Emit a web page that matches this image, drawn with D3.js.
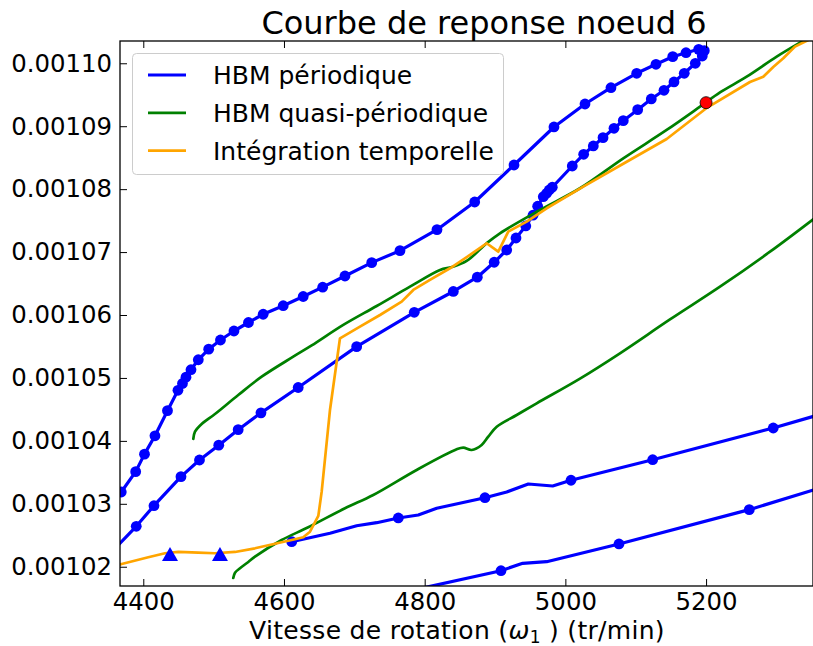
<!DOCTYPE html>
<html>
<head>
	<meta charset="utf-8">
	<title>Courbe de reponse noeud 6</title>
	<style>
		body {
			margin: 0;
			background: #fff;
		}
		svg {
			display: block;
			font-family: 'DejaVu Sans', sans-serif;
		}
		.axis text {
			font-size: 24.4px;
			fill: #000;
		}
	</style>
</head>
<body>
	<svg width="813" height="646"></svg>
<script src="https://d3js.org/d3.v7.min.js"></script>
<script>
	// omega (tr/min), amplitude
	// HBM periodique, main branch (with the fold near 5200) - marked points
	let perA = [
		[4390.0, 0.00102643], [4415.2, 0.00102970], [4453.6, 0.00103431], [4479.9, 0.00103696],
		[4507.3, 0.00103932], [4534.9, 0.00104178], [4567.3, 0.00104446], [4620.2, 0.00104848],
		[4703.3, 0.00105497], [4785.2, 0.00106043], [4840.7, 0.00106374], [4874.8, 0.00106601],
		[4898.8, 0.00106838], [4916.6, 0.00107033], [4929.8, 0.00107224], [4943.7, 0.00107415],
		[4954.0, 0.00107586], [4960.6, 0.00107728], [4968.6, 0.00107880], [4973.4, 0.00107934],
		[4977.1, 0.00107987], [4981.4, 0.00108030], [5009.8, 0.00108368], [5026.0, 0.00108554],
		[5039.7, 0.00108686], [5053.5, 0.00108818], [5069.1, 0.00108967], [5082.3, 0.00109088],
		[5102.8, 0.00109263], [5122.1, 0.00109433], [5140.2, 0.00109571], [5154.4, 0.00109703],
		[5169.0, 0.00109841], [5184.7, 0.00110000], [5194.6, 0.00110116], [5197.5, 0.00110200],
		[5189.5, 0.00110222], [5171.5, 0.00110168], [5152.6, 0.00110105], [5128.8, 0.00109984],
		[5101.4, 0.00109841], [5064.8, 0.00109612], [5027.9, 0.00109353], [4983.8, 0.00108988],
		[4927.0, 0.00108384], [4871.1, 0.00107796], [4817.5, 0.00107356], [4764.9, 0.00107022],
		[4724.7, 0.00106832], [4686.7, 0.00106620], [4655.0, 0.00106442], [4627.3, 0.00106294],
		[4598.9, 0.00106148], [4570.4, 0.00106012], [4549.5, 0.00105881], [4528.9, 0.00105746],
		[4509.7, 0.00105603], [4493.0, 0.00105457], [4478.2, 0.00105289], [4467.8, 0.00105131],
		[4460.7, 0.00105012], [4455.7, 0.00104912], [4449.3, 0.00104804], [4434.4, 0.00104480],
		[4416.6, 0.00104081], [4401.7, 0.00103789], [4389.2, 0.00103511], [4368.7, 0.00103188]
	]
	let perALead = [[4352.7, 0.00102207]]
	let perATail = [[4355.5, 0.00102965]]

	// HBM periodique, middle lower branch
	let perB = [
		[4611.0, 0.00102398], [4665.4, 0.00102532], [4703.3, 0.00102652], [4731.8, 0.00102700],
		[4762.5, 0.00102775], [4790.9, 0.00102822], [4817.1, 0.00102929], [4885.7, 0.00103097],
		[4916.6, 0.00103188], [4947.3, 0.00103315], [4982.0, 0.00103283], [5008.0, 0.00103374],
		[5124.1, 0.00103701], [5295.5, 0.00104205], [5354.8, 0.00104396]
	]
	let perBMarks = [
		[4611.0, 0.00102398], [4762.5, 0.00102775], [4885.7, 0.00103097], [5008.0, 0.00103374],
		[5124.1, 0.00103701], [5295.5, 0.00104205]
	]

	// HBM periodique, lowest branch
	let perC = [
		[4764.9, 0.00101583], [4908.5, 0.00101937], [4939.3, 0.00102055], [4973.4, 0.00102080],
		[5076.2, 0.00102362], [5261.4, 0.00102907], [5354.8, 0.00103228]
	]
	let perCMarks = [
		[4908.5, 0.00101937], [5076.2, 0.00102362], [5261.4, 0.00102907]
	]

	// bifurcation points (triangles)
	let bifPts = [[4438.0, 0.00102203], [4509.0, 0.00102203]]

	// HBM quasi-periodique
	let qpA = [
		[4471.1, 0.00104030], [4473.5, 0.00104146], [4483.0, 0.00104268], [4501.9, 0.00104427],
		[4535.0, 0.00104729], [4568.3, 0.00105020], [4613.2, 0.00105338], [4639.4, 0.00105516],
		[4684.3, 0.00105842], [4731.8, 0.00106143], [4779.1, 0.00106450], [4821.8, 0.00106716],
		[4838.8, 0.00106763], [4859.7, 0.00106859], [4888.1, 0.00107140], [4907.0, 0.00107299],
		[4963.9, 0.00107669], [5020.8, 0.00108014], [5082.3, 0.00108490], [5144.0, 0.00108940],
		[5191.4, 0.00109310], [5219.8, 0.00109536], [5257.7, 0.00109787], [5300.4, 0.00110105],
		[5333.5, 0.00110327], [5361.9, 0.00110505]
	]
	let qpB = [
		[4527.9, 0.00101821], [4530.4, 0.00101906], [4537.5, 0.00101976], [4549.3, 0.00102076],
		[4558.8, 0.00102160], [4596.7, 0.00102425], [4634.5, 0.00102627], [4686.7, 0.00102929],
		[4726.9, 0.00103140], [4788.6, 0.00103538], [4845.5, 0.00103866], [4854.9, 0.00103892],
		[4866.8, 0.00103855], [4881.0, 0.00103935], [4890.4, 0.00104067], [4902.4, 0.00104225],
		[4930.8, 0.00104411], [4959.2, 0.00104597], [5020.8, 0.00104990], [5077.6, 0.00105392],
		[5148.7, 0.00105929], [5219.8, 0.00106450], [5290.9, 0.00107006], [5354.8, 0.00107542]
	]

	// Integration temporelle
	let integ = [
		[4359.8, 0.00102012], [4369.3, 0.00102044], [4407.1, 0.00102150], [4430.8, 0.00102214],
		[4449.8, 0.00102235], [4478.2, 0.00102223], [4501.9, 0.00102214], [4530.4, 0.00102235],
		[4558.8, 0.00102293], [4596.7, 0.00102389], [4615.6, 0.00102436], [4627.4, 0.00102468],
		[4637.0, 0.00102557], [4648.8, 0.00102807], [4653.6, 0.00103193], [4665.4, 0.00104491],
		[4679.6, 0.00105630], [4708.0, 0.00105815], [4736.5, 0.00106000], [4767.3, 0.00106212],
		[4783.8, 0.00106398], [4807.5, 0.00106557], [4836.0, 0.00106743], [4864.4, 0.00106954],
		[4888.1, 0.00107140], [4904.6, 0.00107006], [4918.8, 0.00107324], [4945.0, 0.00107483],
		[4973.4, 0.00107696], [5025.5, 0.00108039], [5087.2, 0.00108436], [5144.0, 0.00108797],
		[5199.9, 0.00109282], [5262.4, 0.00109703], [5281.3, 0.00109787], [5295.5, 0.00109941],
		[5309.8, 0.00110079], [5326.4, 0.00110264], [5345.3, 0.00110370], [5361.9, 0.00110497]
	]

	// red point
	let redPt = [[5200, 0.00109374]]

	let xTicks = [4400, 4600, 4800, 5000, 5200]
	let yTicks = [0.00102, 0.00103, 0.00104, 0.00105, 0.00106, 0.00107, 0.00108, 0.00109, 0.00110]
	let legendNames = ['HBM périodique', 'HBM quasi-périodique', 'Intégration temporelle']
	let legendColors = ['#0000ff', '#008000', '#ffa500']

	let mLeft = 120, mRight = 813, mTop = 41, mBottom = 586

	let svg = d3.select('svg')

	let x = d3.scaleLinear()
		.domain([4366.9, 5352.0])
		.range([mLeft, mRight])

	let y = d3.scaleLinear()
		.domain([0.00101694, 0.00110354])
		.range([mBottom, mTop])

	svg.append('clipPath')
		.attr('id', 'clip')
		.append('rect')
		.attr('x', mLeft)
		.attr('y', mTop)
		.attr('width', mRight - mLeft)
		.attr('height', mBottom - mTop)

	let plot = svg.append('g').attr('clip-path', 'url(#clip)')

	let line = d3.line()
		.x(d => x(d[0]))
		.y(d => y(d[1]))

	let smooth = d3.line()
		.x(d => x(d[0]))
		.y(d => y(d[1]))
		.curve(d3.curveCatmullRom.alpha(0.5))

	function drawLine(data, gen, color, width) {
		plot.append('path')
			.datum(data)
			.attr('d', gen)
			.style('fill', 'none')
			.style('stroke', color)
			.style('stroke-width', width)
			.style('stroke-linejoin', 'round')
			.style('stroke-linecap', 'round')
	}

	function drawDots(data, color, r) {
		plot.append('g')
			.selectAll('circle')
			.data(data)
			.join('circle')
			.attr('cx', d => x(d[0]))
			.attr('cy', d => y(d[1]))
			.attr('r', r)
			.style('fill', color)
	}

	// periodic branches
	drawLine(perALead.concat(perA, perATail), line, '#0000ff', 3.2)
	drawDots(perA, '#0000ff', 5.4)
	drawLine(perB, line, '#0000ff', 3.2)
	drawDots(perBMarks, '#0000ff', 5.4)
	drawLine(perC, line, '#0000ff', 3.2)
	drawDots(perCMarks, '#0000ff', 5.4)

	// quasi-periodic
	drawLine(qpA, smooth, '#008000', 2.7)
	drawLine(qpB, smooth, '#008000', 2.7)

	// time integration
	drawLine(integ, line, '#ffa500', 2.7)

	// bifurcation triangles
	plot.append('g')
		.selectAll('path')
		.data(bifPts)
		.join('path')
		.attr('transform', d => `translate(${x(d[0])},${y(d[1])})`)
		.attr('d', 'M0,-7L8,7L-8,7Z')
		.style('fill', '#0000ff')

	plot.append('g')
		.selectAll('circle')
		.data(redPt)
		.join('circle')
		.attr('cx', d => x(d[0]))
		.attr('cy', d => y(d[1]))
		.attr('r', 6)
		.style('fill', '#ff0000')
		.style('stroke', '#000')
		.style('stroke-width', 0.8)

	// axes, ticks pointing inward
	svg.append('g')
		.attr('class', 'axis')
		.attr('transform', `translate(0,${mBottom})`)
		.call(d3.axisBottom(x).tickValues(xTicks).tickSizeInner(-7).tickSizeOuter(0).tickPadding(7).tickFormat(d3.format('d')))
	svg.append('g')
		.attr('class', 'axis')
		.attr('transform', `translate(0,${mTop})`)
		.call(d3.axisTop(x).tickValues(xTicks).tickSizeInner(-7).tickSizeOuter(0).tickFormat(''))
	svg.append('g')
		.attr('class', 'axis')
		.attr('transform', `translate(${mLeft},0)`)
		.call(d3.axisLeft(y).tickValues(yTicks).tickSizeInner(-7).tickSizeOuter(0).tickPadding(8).tickFormat(d3.format('.5f')))

	svg.selectAll('.axis .domain').remove()
	svg.selectAll('.axis line').style('stroke', '#000').style('stroke-width', 1)
	svg.selectAll('.axis text').style('font-family', "'DejaVu Sans', sans-serif")

	svg.append('rect')
		.attr('x', mLeft)
		.attr('y', mTop)
		.attr('width', mRight - mLeft)
		.attr('height', mBottom - mTop)
		.style('fill', 'none')
		.style('stroke', '#000')
		.style('stroke-width', 1.3)

	// title and label
	svg.append('text')
		.attr('x', 484)
		.attr('y', 34)
		.attr('text-anchor', 'middle')
		.style('font-size', '32px')
		.text('Courbe de reponse noeud 6')

	let xlab = svg.append('text')
		.attr('x', 457)
		.attr('y', 639)
		.attr('text-anchor', 'middle')
		.style('font-size', '25px')
		.style('letter-spacing', '0.3px')
	xlab.append('tspan').text('Vitesse de rotation (')
	xlab.append('tspan').style('font-style', 'italic').text('ω')
	xlab.append('tspan').attr('dy', 4).style('font-size', '17px').text('1')
	xlab.append('tspan').attr('dy', -4).text('  ) (tr/min)')

	// legend
	let lg = svg.append('g')
	lg.append('rect')
		.attr('x', 132.5)
		.attr('y', 53.5)
		.attr('width', 371)
		.attr('height', 121)
		.attr('rx', 4)
		.style('fill', '#fff')
		.style('stroke', '#cccccc')
		.style('stroke-width', 1)

	let items = lg.selectAll('.item')
		.data(legendNames)
		.join('g')
		.attr('class', 'item')
		.attr('transform', (d, i) => `translate(0,${75 + i * 37.8})`)

	items.append('line')
		.attr('x1', 148)
		.attr('x2', 186)
		.style('stroke', (d, i) => legendColors[i])
		.style('stroke-width', (d, i) => i == 0 ? 3.2 : 2.7)

	items.append('text')
		.attr('x', 213)
		.attr('dy', '0.36em')
		.style('font-size', '25px')
		.text(d => d)
</script>
</body>
</html>
